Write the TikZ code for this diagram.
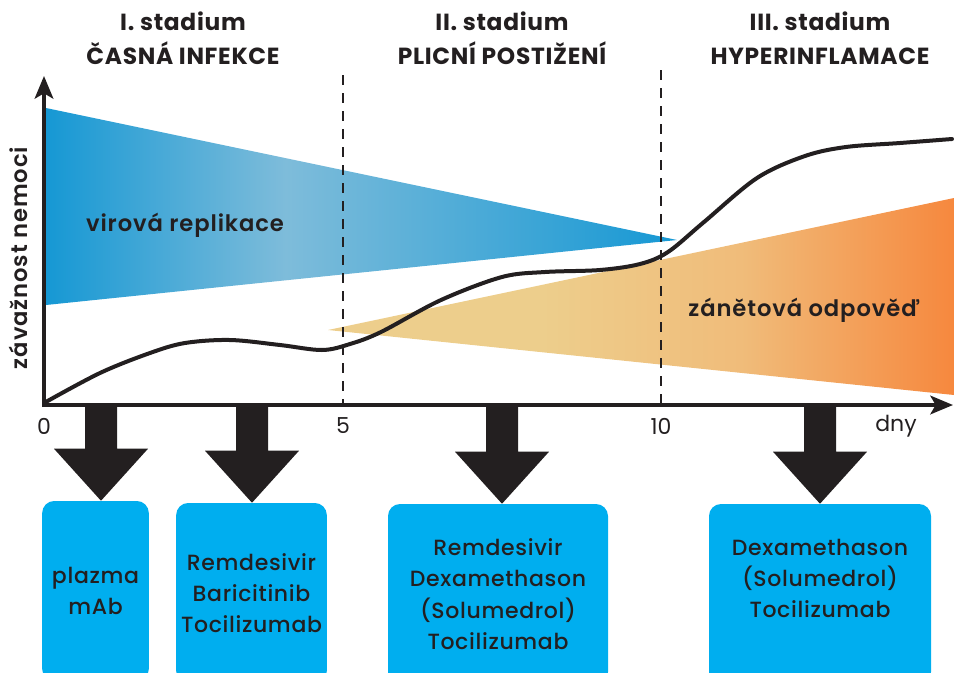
\documentclass[tikz,border=0pt]{standalone}
\usepackage{fontspec}
\setmainfont{Poppins}
\newfontfamily\drugfont{Poppins}[UprightFont=* Medium,LetterSpace=3]
\newfontfamily\headfont{Poppins}[UprightFont=* SemiBold,LetterSpace=4]
\newfontfamily\stagefont{Poppins}[UprightFont=* Bold,LetterSpace=3]
\usetikzlibrary{arrows.meta,positioning,calc}
\definecolor{inkdark}{RGB}{35,31,32}
\definecolor{drugcyan}{RGB}{0,174,239}
\definecolor{virdark}{RGB}{22,152,212}
\definecolor{virlight}{RGB}{126,188,218}
\definecolor{inflight}{RGB}{237,206,140}
\definecolor{infmid}{RGB}{240,188,122}
\definecolor{infdark}{RGB}{246,136,62}
\pgfdeclarehorizontalshading{virshade}{100bp}{color(0bp)=(virdark); color(25bp)=(virdark); color(44bp)=(virlight); color(75bp)=(virdark); color(100bp)=(virdark)}
\pgfdeclarehorizontalshading{infshade}{100bp}{color(0bp)=(inflight); color(25bp)=(inflight); color(42bp)=(inflight); color(58bp)=(infmid); color(75bp)=(infdark); color(100bp)=(infdark)}
\tikzstyle{stage}=[align=center,text=inkdark,font=\stagefont\fontsize{17.5}{25.5}\selectfont]
\tikzstyle{phase}=[text=inkdark,font=\headfont\fontsize{17}{20}\selectfont]
\tikzstyle{daylbl}=[text=inkdark,font=\fontsize{16.5}{20}\selectfont]
\tikzstyle{drug}=[rectangle,rounded corners=9pt,fill=drugcyan,align=center,text=inkdark,font=\drugfont\fontsize{16.5}{23.5}\selectfont,minimum height=135pt,inner sep=0pt]
\tikzstyle{axis}=[line width=2.6pt,draw=inkdark,-{Stealth[length=17pt,width=14pt,inset=4pt,fill=inkdark]}]
\tikzstyle{sep}=[dash pattern=on 7.5pt off 6pt,line width=1.5pt,draw=inkdark]
\tikzstyle{course}=[line width=3pt,draw=inkdark,line cap=round]
% block arrow from a point on the time axis down to a drug box
\newcommand{\treatarrow}[2]{%
  \fill[inkdark] ($(#1)+(-16,0)$) -- ($(#1)+(16,0)$) -- ($(#1 |- #2.north)+(16,-52)$)
    -- ($(#1 |- #2.north)+(47,-52)$) -- (#1 |- #2.north) -- ($(#1 |- #2.north)+(-47,-52)$)
    -- ($(#1 |- #2.north)+(-16,-52)$) -- cycle;}

\begin{document}
\begin{tikzpicture}[x=0.75pt,y=-0.75pt]
\useasboundingbox (0,0) rectangle (954,672);
% stages
\node[stage] (st1) at (183,38) {I. stadium\\ČASNÁ INFEKCE};
\node[stage] (st2) at (502,38) {II. stadium\\PLICNÍ POSTIŽENÍ};
\node[stage] (st3) at (820,38) {III. stadium\\HYPERINFLAMACE};
% wedges
\shade[shading=virshade] (46,108) -- (677,240) -- (46,305) -- cycle;
\shade[shading=infshade] (328,330) -- (954,198) -- (954,395) -- cycle;
\node[phase] (vir) at (185,225) {virová replikace};
\node[phase] (inf) at (804,310) {zánětová odpověď};
% course of disease
\draw[course] plot[smooth,tension=0.55] coordinates {(44,403) (100,373) (150,353) (185,343) (230,340) (280,345) (322,350) (350,344) (381,332) (441,300) (502,277) (545,272) (600,270) (640,264) (668,252) (704,222) (757,178) (805,156) (846,147) (900,143) (952,139)};
% stage borders
\draw[sep] (343,75) -- (343,405);
\draw[sep] (661,70) -- (661,405);
% axes
\coordinate (o) at (44,405);
\draw[axis] (44,407) -- (44,76);
\draw[axis] (42,405) -- (953,405);
\node[phase,rotate=90] (ylbl) at (18,258) {závažnost nemoci};
\node[daylbl] (d0) at (44,426) {0};
\node[daylbl] (d5) at (343,426) {5};
\node[daylbl] (d10) at (661,426) {10};
\node[daylbl] (dny) at (896,426) {dny};
% treatment
\node[drug,minimum width=80pt] (plazma) at (95.5,591) {plazma\\mAb};
\node[drug,minimum width=113pt] (early) at (251.5,593) {Remdesivir\\Baricitinib\\Tocilizumab};
\node[drug,minimum width=165pt] (lung) at (498,594) {Remdesivir\\Dexamethason\\(Solumedrol)\\Tocilizumab};
\node[drug,minimum width=166.5pt] (hyper) at (820,594) {Dexamethason\\(Solumedrol)\\Tocilizumab\\\mbox{}};
\coordinate (t1) at (101,405);
\coordinate (t2) at (252,405);
\coordinate (t3) at (502,405);
\coordinate (t4) at (820,405);
\treatarrow{t1}{plazma}
\treatarrow{t2}{early}
\treatarrow{t3}{lung}
\treatarrow{t4}{hyper}
\end{tikzpicture}
\end{document}
